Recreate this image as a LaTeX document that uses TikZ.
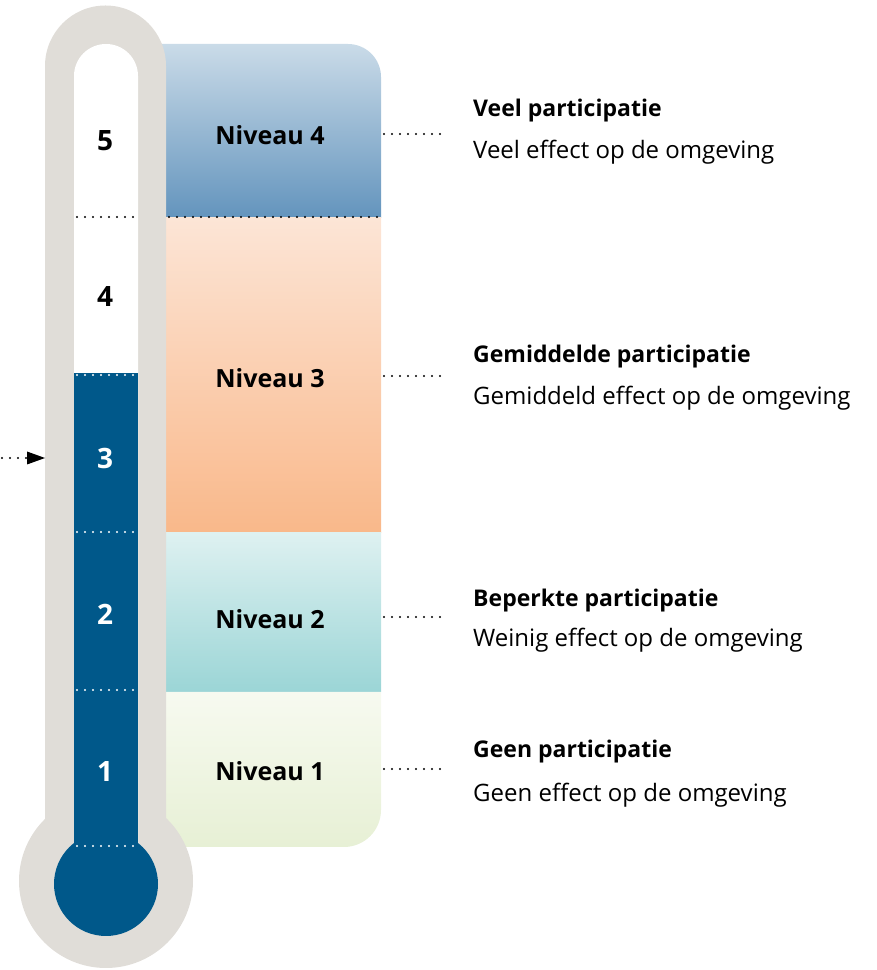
\documentclass[tikz,border=0pt]{standalone}
\usepackage{fontspec}
\setmainfont{Open Sans}
\usetikzlibrary{arrows.meta}
\definecolor{tgray}{HTML}{E0DDD8}
\definecolor{tblue}{HTML}{00588A}
\definecolor{nfourtop}{HTML}{CADBE8}
\definecolor{nfourbot}{HTML}{6394BD}
\definecolor{nthreetop}{HTML}{FCE5D6}
\definecolor{nthreebot}{HTML}{F9B88A}
\definecolor{ntwotop}{HTML}{DEF1F1}
\definecolor{ntwobot}{HTML}{9BD5D6}
\definecolor{nonetop}{HTML}{F7FAF0}
\definecolor{nonebot}{HTML}{E7F0D5}
\tikzset{
  x=1pt, y=1pt,
  dots/.style={line width=2.2pt, line cap=round, dash pattern=on 0pt off 8pt},
  blackdots/.style={dots, black},
  whitedots/.style={dots, white},
  numlabel/.style={font=\fontsize{28}{30}\selectfont\bfseries, inner sep=0pt},
  levlabel/.style={font=\fontsize{25}{28}\selectfont\bfseries, inner sep=0pt},
  titletext/.style={font=\fontsize{23}{26}\selectfont\bfseries, anchor=base west, inner sep=0pt},
  subtext/.style={font=\fontsize{24}{26}\selectfont, anchor=base west, inner sep=0pt},
}
\begin{document}
\begin{tikzpicture}
\useasboundingbox (0,0) rectangle (877,970);
% level boxes
\shade[top color=nfourtop, bottom color=nfourbot] (150,752) -- (150,926) -- (348,926) arc[start angle=90, end angle=0, radius=33] -- (381,752) -- cycle;
\shade[top color=nthreetop, bottom color=nthreebot] (150,437) rectangle (381,752);
\shade[top color=ntwotop, bottom color=ntwobot] (150,278) rectangle (381,437);
\shade[top color=nonetop, bottom color=nonebot] (150,278) -- (381,278) -- (381,160) arc[start angle=0, end angle=-90, radius=37] -- (150,123) -- cycle;
% thermometer
\fill[tgray] (45,120) -- (45,904) arc[start angle=180, end angle=0, radius=60.5] -- (166,120) -- cycle;
\fill[tgray] (106,89) circle[radius=87];
\fill[white] (74,120) -- (74,894) arc[start angle=180, end angle=0, radius=32] -- (138,120) -- cycle;
\fill[tblue] (74,110) rectangle (138,597);
\fill[tblue] (106,86) circle[radius=52];
% dotted separators
\draw[blackdots] (77,753) -- (136,753);
\draw[blackdots] (169,753) -- (380,753);
\draw[whitedots] (77,595) -- (136,595);
\draw[whitedots] (77,438) -- (136,438);
\draw[whitedots] (77,280) -- (136,280);
\draw[whitedots] (77,124) -- (136,124);
% numbers
\node[numlabel] (t5) at (105,829) {5};
\node[numlabel] (t4) at (105,673) {4};
\node[numlabel, white] (t3) at (105,511) {3};
\node[numlabel, white] (t2) at (105,356) {2};
\node[numlabel, white] (t1) at (105,198) {1};
% level labels
\node[levlabel] (n4) at (270,835) {Niveau 4};
\node[levlabel] (n3) at (270,592) {Niveau 3};
\node[levlabel] (n2) at (270,351) {Niveau 2};
\node[levlabel] (n1) at (270,199) {Niveau 1};
% leaders
\coordinate (l4a) at (384,836); \coordinate (l4b) at (440,836);
\coordinate (l3a) at (384,594); \coordinate (l3b) at (440,594);
\coordinate (l2a) at (384,353); \coordinate (l2b) at (440,353);
\coordinate (l1a) at (384,201); \coordinate (l1b) at (440,201);
\draw[blackdots] (l4a) -- (l4b);
\draw[blackdots] (l3a) -- (l3b);
\draw[blackdots] (l2a) -- (l2b);
\draw[blackdots] (l1a) -- (l1b);
% descriptions
\node[titletext] (d4t) at (473,853) {Veel participatie};
\node[subtext] (d4s) at (473,811) {Veel effect op de omgeving};
\node[titletext] (d3t) at (473,607) {Gemiddelde participatie};
\node[subtext] (d3s) at (473,565) {Gemiddeld effect op de omgeving};
\node[titletext] (d2t) at (473,363) {Beperkte participatie};
\node[subtext] (d2s) at (473,323) {Weinig effect op de omgeving};
\node[titletext] (d1t) at (473,212) {Geen participatie};
\node[subtext] (d1s) at (473,168) {Geen effect op de omgeving};
% arrow
\coordinate (a0) at (2,512);
\coordinate (a1) at (27,512);
\coordinate (a2) at (45,512);
\draw[blackdots] (a0) -- (a1);
\fill[black] (27,518.5) -- (45,512) -- (27,505.5) -- cycle;
\end{tikzpicture}
\end{document}
